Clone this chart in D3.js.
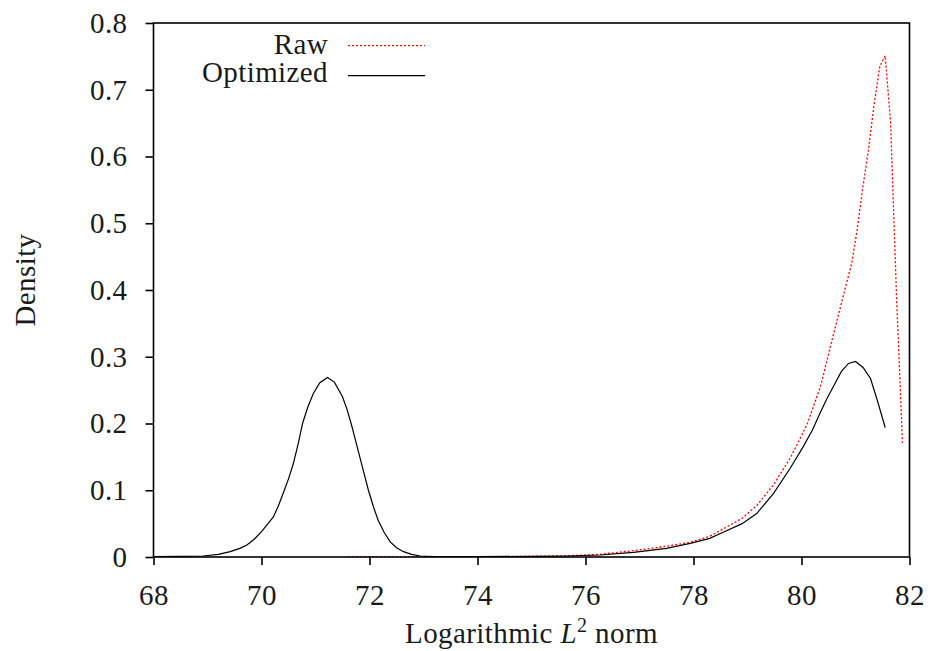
<html>
<head>
<script src="https://d3js.org/d3.v7.min.js"></script>
<style>
  body { margin: 0; background: #fff; }
  text { font-family: "Liberation Serif", "DejaVu Serif", serif; fill: #1a1a1a; letter-spacing: 0.4px; }
</style>
</head>
<body>
<script>
// Optimized density (x = log L2 norm, y = density)
var optX = [68.0, 68.5, 68.92, 69.2, 69.42, 69.6, 69.73, 69.87, 70.0, 70.12, 70.22, 70.31, 70.4, 70.5,
  70.59, 70.68, 70.76, 70.86, 70.96, 71.08, 71.22, 71.35, 71.5, 71.58, 71.66, 71.74, 71.82, 71.9,
  71.98, 72.07, 72.16, 72.27, 72.38, 72.5, 72.63, 72.78, 72.94, 73.3, 74.0, 75.0, 75.65, 76.27,
  76.89, 77.5, 77.94, 78.3, 78.55, 78.9, 79.17, 79.48, 79.79, 80.03, 80.2, 80.34, 80.47, 80.6,
  80.74, 80.87, 81.0, 81.14, 81.28, 81.41, 81.55];
var optY = [0.0005, 0.0008, 0.0015, 0.004, 0.008, 0.013, 0.018, 0.027, 0.038, 0.05, 0.06, 0.076, 0.095, 0.117,
  0.14, 0.17, 0.2, 0.225, 0.245, 0.261, 0.269, 0.262, 0.24, 0.222, 0.2, 0.175, 0.15, 0.125,
  0.1, 0.076, 0.055, 0.037, 0.023, 0.014, 0.008, 0.004, 0.0015, 0.0004, 0.0005, 0.001, 0.0015, 0.003,
  0.007, 0.013, 0.0205, 0.028, 0.037, 0.05, 0.065, 0.095, 0.133, 0.165, 0.19, 0.215, 0.237, 0.257,
  0.278, 0.29, 0.293, 0.284, 0.267, 0.233, 0.194];

// Raw density
var rawX = [71.6, 72.5, 73.5, 74.5, 75.2, 75.65, 76.27, 76.89, 77.5, 77.94, 78.3, 78.55, 78.9, 79.17,
  79.48, 79.79, 80.1, 80.35, 80.55, 80.77, 80.93, 81.03, 81.13, 81.24, 81.34, 81.45, 81.55, 81.65,
  81.76, 81.87];
var rawY = [0.0, 0.0001, 0.0003, 0.0007, 0.0012, 0.0018, 0.004, 0.0095, 0.016, 0.022, 0.031, 0.042, 0.058, 0.077,
  0.108, 0.148, 0.198, 0.255, 0.32, 0.39, 0.44, 0.49, 0.55, 0.61, 0.675, 0.735, 0.751, 0.65,
  0.39, 0.171];

var xTicks = [68, 70, 72, 74, 76, 78, 80, 82];
var yTicks = [0, 0.1, 0.2, 0.3, 0.4, 0.5, 0.6, 0.7, 0.8];
var yTickLabels = ["0", "0.1", "0.2", "0.3", "0.4", "0.5", "0.6", "0.7", "0.8"];

var W = 930, H = 651;
var pLeft = 153.5, pRight = 909.5, pTop = 23, pBottom = 557;
var fs = "29px";

var svg = d3.select("body").append("svg").attr("width", W).attr("height", H);

var x = d3.scaleLinear().domain([68, 82]).range([pLeft, pRight]);
var y = d3.scaleLinear().domain([0, 0.8]).range([pBottom, pTop]);

// axes
var xAxis = svg.append("g").attr("transform", "translate(0," + pBottom + ")")
  .call(d3.axisBottom(x).tickValues(xTicks).tickSize(8).tickSizeOuter(0).tickFormat(d3.format("d")));
xAxis.select(".domain").remove();
xAxis.selectAll("text").attr("dy", null).attr("y", 48).style("font-size", fs);

var yAxis = svg.append("g").attr("transform", "translate(" + pLeft + ",0)")
  .call(d3.axisLeft(y).tickValues(yTicks).tickSize(8).tickSizeOuter(0).tickPadding(18)
    .tickFormat(function(d, i) { return yTickLabels[i]; }));
yAxis.select(".domain").remove();
yAxis.selectAll("text").style("font-size", fs);
svg.selectAll(".tick line").attr("stroke", "#000").attr("stroke-width", 1.6);

// clip
svg.append("clipPath").attr("id", "clip").append("rect")
  .attr("x", pLeft).attr("y", pTop).attr("width", pRight - pLeft).attr("height", pBottom - pTop);

var line = d3.line()
  .x(function(d) { return x(d[0]); })
  .y(function(d) { return y(d[1]); });

var raw = rawX.map(function(v, i) { return [v, rawY[i]]; });
var opt = optX.map(function(v, i) { return [v, optY[i]]; });

svg.append("path").datum(raw).attr("clip-path", "url(#clip)")
  .attr("d", line).attr("fill", "none").attr("stroke", "#ff0000")
  .attr("stroke-width", 1.3).attr("stroke-dasharray", "2,2");

svg.append("path").datum(opt).attr("clip-path", "url(#clip)")
  .attr("d", line).attr("fill", "none").attr("stroke", "#000")
  .attr("stroke-width", 1.2);

// frame
svg.append("rect").attr("x", pLeft).attr("y", pTop)
  .attr("width", pRight - pLeft).attr("height", pBottom - pTop)
  .attr("fill", "none").attr("stroke", "#000").attr("stroke-width", 1.6);

// legend
var legend = [["Raw", "#ff0000", "2,2", 54, 45.7], ["Optimized", "#000", null, 82, 75.7]];
legend.forEach(function(l) {
  svg.append("text").attr("x", 328).attr("y", l[3]).attr("text-anchor", "end")
    .style("font-size", fs).text(l[0]);
  svg.append("line").attr("x1", 348).attr("x2", 425).attr("y1", l[4]).attr("y2", l[4])
    .attr("stroke", l[1]).attr("stroke-width", 1.3).attr("stroke-dasharray", l[2]);
});

// axis titles
var xt = svg.append("text").attr("x", (pLeft + pRight) / 2).attr("y", 643)
  .attr("text-anchor", "middle").style("font-size", fs);
xt.append("tspan").text("Logarithmic ");
xt.append("tspan").style("font-style", "italic").text("L");
xt.append("tspan").attr("dy", -11).style("font-size", "20px").text("2");
xt.append("tspan").attr("dy", 11).text(" norm");

svg.append("text").attr("transform", "translate(35,280) rotate(-90)")
  .attr("text-anchor", "middle").style("font-size", fs).text("Density");
</script>
</body>
</html>
